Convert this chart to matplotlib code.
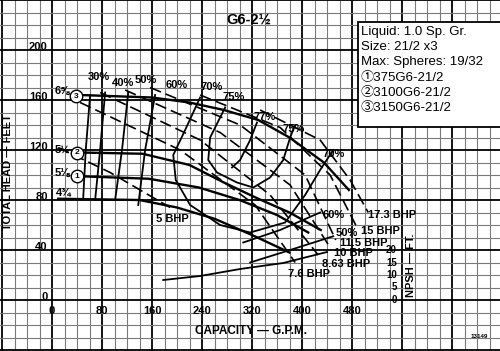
import numpy as np
import matplotlib
matplotlib.use('Agg')
import matplotlib.pyplot as plt
from matplotlib.patches import Rectangle

# head curves (GPM, ft) for each impeller diameter
q_d6 = [45, 160, 220, 275, 330, 380, 435, 475]
h_d6 = [164, 162, 158, 152, 144, 130, 110, 88]
q_d55 = [45, 145, 220, 275, 330, 380, 430]
h_d55 = [118, 117, 108, 94, 81, 70, 56]
q_d51 = [45, 155, 235, 300, 360, 410]
h_d51 = [99, 97, 90, 80, 68, 54]
q_d47 = [10, 140, 200, 260, 320, 380]
h_d47 = [81, 80, 74, 65, 52, 38]

# iso-efficiency curves
eff_curves = {
    '30%': ([61, 54, 50], [164, 120, 82]),
    '40%': ([85, 77, 69], [166, 120, 80]),
    '50%': ([122, 112, 101], [166, 120, 80]),
    '60%': ([165, 149, 138], [164, 120, 76]),
    '70%': ([237, 213, 194, 198, 221, 269, 317, 373, 405, 429, 450],
            [162, 136, 116, 96, 76, 60, 54, 62, 84, 104, 120]),
    '75%': ([277, 253, 250, 264, 296, 322, 349, 370, 381, 389],
            [154, 130, 112, 102, 94, 90, 98, 112, 130, 140]),
    '77%': ([328, 317, 301, 288], [142, 128, 112, 106]),
    '60% low': ([306, 365, 429], [46, 56, 70]),
    '50% low': ([317, 381, 450], [30, 40, 51]),
}

# constant BHP lines
bhp_lines = {
    '5': ([10, 93, 189], [122, 102, 74]),
    '7.5': ([45, 205, 325, 389], [158, 120, 76, 30]),
    '8.63': ([77, 237, 349, 426], [166, 128, 84, 36]),
    '10': ([117, 269, 381, 445], [168, 134, 92, 42]),
    '11.5': ([157, 301, 405, 454], [170, 140, 100, 48]),
    '15': ([237, 365, 445, 488], [164, 138, 100, 58]),
    '17.3': ([333, 429, 477, 506], [152, 128, 96, 70]),
}

# NPSH required curve
q_npsh = [178, 237, 301, 370, 440]
npsh = [8, 9.6, 12.4, 14.8, 19.2]

x_ticks = [0, 80, 160, 240, 320, 400, 480]
y_ticks = [0, 40, 80, 120, 160, 200]
npsh_ticks = [0, 5, 10, 15, 20]

legend_lines = ['Liquid: 1.0 Sp. Gr.', 'Size: 21/2 x3', 'Max: Spheres: 19/32',
                '\u2460375G6-21/2', '\u24613100G6-21/2', '\u24623150G6-21/2']

bold = dict(family='Liberation Sans', fontweight='bold', color='k')

fig = plt.figure(figsize=(5, 3.51), dpi=100)
ax = fig.add_axes([0, 0, 1, 1])
ax.set_xlim(-83.2, 716.8)
ax.set_ylim(-40.8, 240)

# graph paper grid
ax.set_xticks(np.arange(-80, 720, 80))
ax.set_xticks(np.arange(-80, 720, 20), minor=True)
ax.set_yticks(np.arange(-40, 241, 40))
ax.set_yticks(np.arange(-40, 241, 10), minor=True)
ax.grid(which='minor', color='#7a7a7a', lw=0.8)
ax.grid(which='major', color='k', lw=1.3)
ax.tick_params(which='both', length=0, labelbottom=False, labelleft=False)
for s in ax.spines.values():
    s.set_visible(False)

# head curves
for q, h in [(q_d6, h_d6), (q_d55, h_d55), (q_d51, h_d51), (q_d47, h_d47)]:
    ax.plot(q, h, color='k', lw=1.7, zorder=3)

for name, (q, h) in eff_curves.items():
    ax.plot(q, h, color='k', lw=1.3, zorder=3)

for name, (q, h) in bhp_lines.items():
    ax.plot(q, h, color='k', lw=1.2, dashes=(7, 3), zorder=3)

# impeller circles and diameters
circ_q = [38, 40, 40]
circ_h = [163, 118, 99]
circ_n = ['3', '2', '1']
ax.plot(circ_q, circ_h, 'o', ms=9, mfc='white', mec='k', mew=1.0, zorder=4)
for q, h, n in zip(circ_q, circ_h, circ_n):
    ax.text(q, h, n, ha='center', va='center', fontsize=6, zorder=5, **bold)
for q, h, t in [(16, 167, '6\u215d'), (16, 120, '5\u00bd'), (16, 102, '5\u215b'), (19, 86, '4\u00be')]:
    ax.text(q, h, t, ha='center', va='center', fontsize=8, **bold)

# efficiency labels
eff_labels = [(75, 178, '30%'), (114, 174, '40%'), (150, 176, '50%'), (200, 172, '60%'),
              (256, 170, '70%'), (290, 162, '75%'), (341, 146, '77%'), (386, 137, '75%'),
              (450, 117, '70%'), (450, 68, '60%'), (472, 54, '50%')]
for q, h, t in eff_labels:
    ax.text(q, h, t, ha='center', va='center', fontsize=8, zorder=4, **bold)

bhp_labels = [(192, 65, '5 BHP'), (411, 21, '7.6 BHP'), (470, 29, '8.63 BHP'),
              (482, 38, '10 BHP'), (498, 46, '11.5 BHP'), (525, 55, '15 BHP'),
              (544, 68, '17.3 BHP')]
for q, h, t in bhp_labels:
    ax.text(q, h, t, ha='center', va='center', fontsize=8, zorder=4, **bold)

# tick labels
for v in x_ticks:
    ax.text(v, -9, str(v), ha='center', va='center', fontsize=8, **bold)
for v in y_ticks:
    ax.text(-7, v + 2, str(v), ha='right', va='center', fontsize=8, **bold)

# NPSH scale (ft), drawn on a twin axis with half the head scale
ax2 = ax.twinx()
ax2.set_ylim(-20.4, 120)
ax2.axis('off')
ax2.plot(q_npsh, npsh, color='k', lw=1.3)
for v in npsh_ticks:
    ax2.text(552, v, str(v), ha='right', va='center', fontsize=7, **bold)
ax2.text(574, 14, 'NPSH \u2014 FT.', rotation=90, ha='center', va='center', fontsize=8, **bold)

# titles
ax.text(-70, 102, 'TOTAL HEAD \u2014 FEET', rotation=90, ha='center', va='center', fontsize=8, **bold)
ax.text(318, -25, 'CAPACITY \u2014 G.P.M.', ha='center', va='center', fontsize=8.5, **bold)
ax.text(315, 224, 'G6-2\u00bd', ha='center', va='center', fontsize=10.5, **bold)
ax.text(683, -29, '13149', ha='center', va='center', fontsize=4.5, **bold)

# info box
ax.add_patch(Rectangle((0.716, 0.638), 0.3, 0.3, transform=ax.transAxes,
                       fc='white', ec='k', lw=1.3, zorder=6, clip_on=False))
for i, t in enumerate(legend_lines):
    ax.text(0.722, 0.909 - i * 0.0435, t, transform=ax.transAxes, ha='left', va='center',
            fontsize=9.5, family=['Liberation Sans', 'Noto Sans CJK JP'], zorder=7)

fig.savefig('out.png', dpi=100)
